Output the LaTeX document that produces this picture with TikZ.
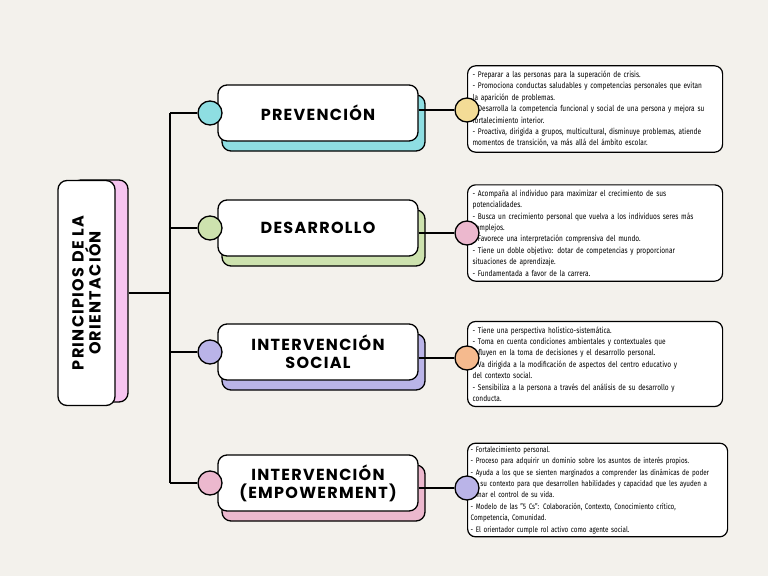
\documentclass[tikz,border=0pt]{standalone}
\usepackage{fontspec}
\setmainfont{Fira Sans}[FakeStretch=0.8]
\newfontfamily\titlefont{Poppins}[LetterSpace=8,BoldFont={* Bold}]
\definecolor{paper}{RGB}{243,241,236}
\definecolor{pv}{RGB}{142,222,226}
\definecolor{ds}{RGB}{205,226,174}
\definecolor{is}{RGB}{186,180,232}
\definecolor{ie}{RGB}{236,184,206}
\definecolor{yl}{RGB}{243,220,150}
\definecolor{or}{RGB}{245,186,142}
\definecolor{pk}{RGB}{246,196,240}
\usetikzlibrary{positioning}
\tikzset{
  box/.style = {draw, line width=1.3pt, rounded corners=9pt, fill=white,
    minimum width=200pt, minimum height=56pt, align=center,
    font=\titlefont\bfseries\fontsize{16}{18}\selectfont},
  shade/.style = {draw, line width=1.3pt, rounded corners=9pt,
    minimum width=203pt, minimum height=56pt},
  dot/.style = {draw, line width=1.3pt, circle, minimum size=24pt, inner sep=0pt},
  info/.style = {draw, line width=1.2pt, rounded corners=8pt, fill=white,
    text width=245pt, inner sep=5pt, align=left,
    font=\fontsize{8.2}{11.4}\selectfont},
  link/.style = {line width=1.3pt}
}
\begin{document}
\begin{tikzpicture}[x=1pt,y=-1pt]
\useasboundingbox[fill=paper] (0,0) rectangle (768,576);

% main title
\node[draw, line width=1.3pt, rounded corners=9pt, fill=pk,
  minimum width=56pt, minimum height=222pt] (mainsh) at (100,291) {};
\node[draw, line width=1.3pt, rounded corners=9pt, fill=white,
  minimum width=57pt, minimum height=225pt] (main) at (86.5,293) {};
\node[rotate=90, align=center, font=\titlefont\bfseries\fontsize{16}{17}\selectfont]
  at (main.center) {PRINCIPIOS DE LA\\ORIENTACIÓN};
\coordinate (hub) at (170,293);
\draw[link] (mainsh.east |- hub) -- (hub);
\draw[link] (170,113) -- (170,483);

% branches
\foreach \n/\y/\c/\cc/\t in {a/113/pv/yl/PREVENCIÓN,
                             b/228/ds/ie/DESARROLLO,
                             c/352/is/or/{INTERVENCIÓN\\SOCIAL},
                             d/483/ie/is/{INTERVENCIÓN\\(EMPOWERMENT)}}{
  \node[shade, fill=\c] (sh\n) at (323.5,\y+10) {};
  \node[box] (br\n) at (318,\y) {\t};
  \node[dot, fill=\c] (in\n) at (210,\y) {};
  \draw[link] (170,\y) -- (in\n);
}

% descriptions
\node[info, anchor=west] (txa) at (467,109) {%
- Preparar a las personas para la superación de crisis.\\
- Promociona conductas saludables y competencias personales que evitan\\la aparición de problemas.\\
- Desarrolla la competencia funcional y social de una persona y mejora su\\fortalecimiento interior.\\
- Proactiva, dirigida a grupos, multicultural, disminuye problemas, atiende\\momentos de transición, va más allá del ámbito escolar.};
\node[info, anchor=west] (txb) at (467,233) {%
- Acompaña al individuo para maximizar el crecimiento de sus\\potencialidades.\\
- Busca un crecimiento personal que vuelva a los individuos seres más\\complejos.\\
- Favorece una interpretación comprensiva del mundo.\\
- Tiene un doble objetivo: dotar de competencias y proporcionar\\situaciones de aprendizaje.\\
- Fundamentada a favor de la carrera.};
\node[info, anchor=west] (txc) at (467,364) {%
- Tiene una perspectiva holístico-sistemática.\\
- Toma en cuenta condiciones ambientales y contextuales que\\influyen en la toma de decisiones y el desarrollo personal.\\
- Va dirigida a la modificación de aspectos del centro educativo y\\del contexto social.\\
- Sensibiliza a la persona a través del análisis de su desarrollo y\\conducta.};
\node[info, anchor=west, text width=254pt, inner sep=3pt,
  font=\fontsize{7.9}{11.4}\selectfont] (txd) at (467,490) {%
- Fortalecimiento personal.\\
- Proceso para adquirir un dominio sobre los asuntos de interés propios.\\
- Ayuda a los que se sienten marginados a comprender las dinámicas de poder\\de su contexto para que desarrollen habilidades y capacidad que les ayuden a\\tomar el control de su vida.\\
- Modelo de las "5 Cs": Colaboración, Contexto, Conocimiento crítico,\\Competencia, Comunidad.\\
- El orientador cumple rol activo como agente social.};

\foreach \n/\y/\c in {a/110/yl, b/233/ie, c/358/or, d/488/is}{
  \node[dot, fill=\c] (out\n) at (467,\y) {};
  \draw[link] (br\n.east |- out\n) -- (out\n);
}
\end{tikzpicture}
\end{document}
